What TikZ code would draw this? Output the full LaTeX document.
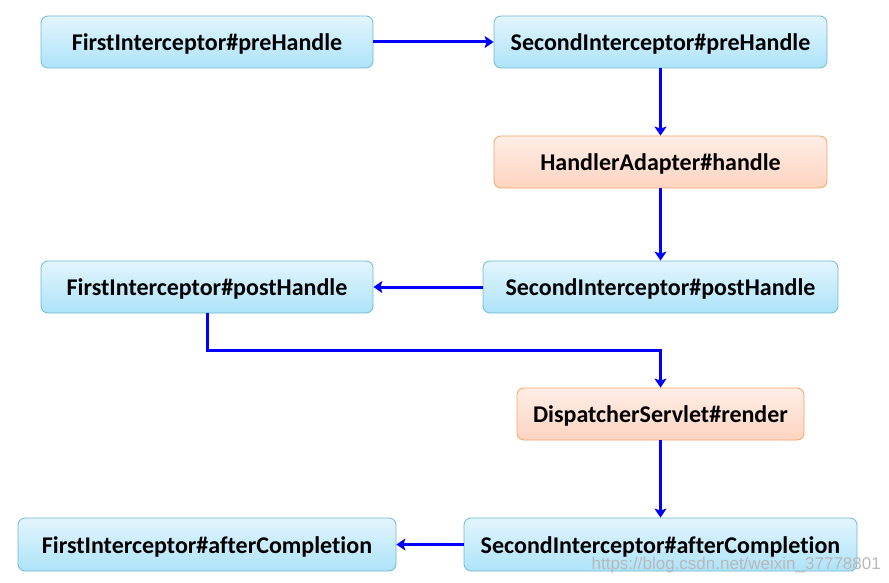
\documentclass[tikz,border=0pt]{standalone}
\usepackage{fontspec}
\setmainfont[Ligatures=NoCommon]{Carlito}
\newfontfamily\wmfont{Liberation Sans}
\usetikzlibrary{arrows.meta}
\definecolor{bluetop}{HTML}{E3F5FD}
\definecolor{bluebot}{HTML}{ADE3F9}
\definecolor{blueline}{HTML}{6FB9D3}
\definecolor{orgtop}{HTML}{FEEEE7}
\definecolor{orgbot}{HTML}{FDD4C0}
\definecolor{orgline}{HTML}{F5A465}
\definecolor{arrowblue}{HTML}{0000FF}
\definecolor{wmcolor}{HTML}{E8F2F6}
\tikzset{
  box/.style={rounded corners=7pt, line width=0.8pt, font=\bfseries\fontsize{24}{28}\selectfont, text=black, inner sep=0pt, text depth=0pt, text height=17pt},
  bluebox/.style={box, draw=blueline, top color=bluetop, bottom color=bluebot},
  orgbox/.style={box, draw=orgline, top color=orgtop, bottom color=orgbot},
  conn/.style={draw=arrowblue, line width=3pt, -{Stealth[length=9pt,width=12pt,inset=2pt]}},
}
\begin{document}
\begin{tikzpicture}[x=1pt,y=-1pt]
\useasboundingbox (0,0) rectangle (889,583);
\node[bluebox, minimum width=332pt, minimum height=52pt] (fpre) at (207,42) {FirstInterceptor\#preHandle};
\node[bluebox, minimum width=333pt, minimum height=52pt] (spre) at (660.5,42) {SecondInterceptor\#preHandle};
\node[orgbox, minimum width=333pt, minimum height=52pt] (ha) at (660.5,162) {HandlerAdapter\#handle};
\node[bluebox, minimum width=332pt, minimum height=52pt] (fpost) at (207,287) {FirstInterceptor\#postHandle};
\node[bluebox, minimum width=355pt, minimum height=52pt] (spost) at (660.5,287) {SecondInterceptor\#postHandle};
\node[orgbox, minimum width=287pt, minimum height=52pt] (ds) at (660.5,414) {DispatcherServlet\#render};
\node[bluebox, minimum width=378pt, minimum height=53pt] (fafter) at (207,544.5) {FirstInterceptor\#afterCompletion};
\node[bluebox, minimum width=393pt, minimum height=53pt] (safter) at (660.5,544.5) {SecondInterceptor\#afterCompletion};
\coordinate (bend1) at (207,350);
\coordinate (bend2) at (660.5,350);
\draw[conn] (fpre) -- (spre);
\draw[conn] (spre) -- (ha);
\draw[conn] (ha) -- (spost);
\draw[conn] (spost) -- (fpost);
\draw[conn] (fpost.south) -- (bend1) -- (bend2) -- (ds.north);
\draw[conn] (ds) -- (safter);
\draw[conn] (safter) -- (fafter);
\node[font=\wmfont\fontsize{17}{20}\selectfont, text=black!28, anchor=east, inner sep=0pt] (wm) at (881,565) {https://blog.csdn.net/weixin\_37778801};
\end{tikzpicture}
\end{document}
